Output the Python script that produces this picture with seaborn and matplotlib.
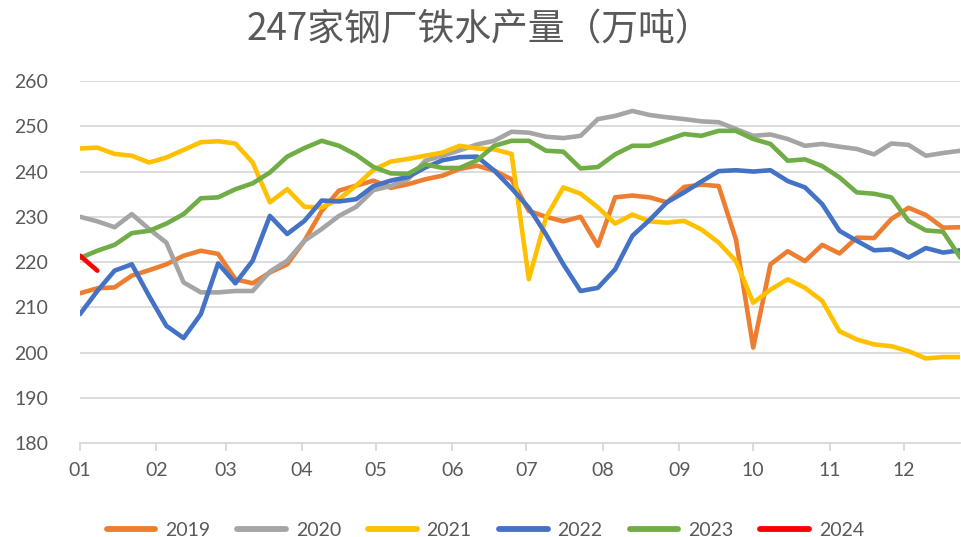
import numpy as np
import pandas as pd
import matplotlib
matplotlib.use("Agg")
import matplotlib.pyplot as plt
import seaborn as sns

# Weekly hot-metal output of 247 steel mills (10k tonnes), week index 0..51
y2019 = [213.1, 214.2, 214.4, 217.0, 218.2, 219.5, 221.4, 222.5, 221.8, 216.2,
         215.3, 217.7, 219.5, 224.7, 231.3, 235.8, 236.9, 238.0, 236.4, 237.2,
         238.3, 239.1, 240.6, 241.3, 240.2, 238.3, 231.3, 230.0, 229.0, 230.0,
         223.6, 234.3, 234.7, 234.3, 233.2, 236.6, 237.1, 236.8, 225.0, 201.1,
         219.5, 222.4, 220.2, 223.8, 221.9, 225.4, 225.3, 229.5, 232.0, 230.4,
         227.6, 227.7]
y2020 = [230.0, 229.0, 227.7, 230.6, 227.3, 224.3, 215.5, 213.3, 213.3, 213.6,
         213.6, 217.9, 220.3, 224.7, 227.3, 230.2, 232.2, 235.9, 236.8, 238.3,
         242.4, 243.5, 244.7, 246.0, 246.8, 248.8, 248.6, 247.7, 247.4, 247.9,
         251.6, 252.3, 253.4, 252.5, 252.0, 251.6, 251.1, 250.9, 249.4, 247.9,
         248.2, 247.2, 245.7, 246.1, 245.5, 245.0, 243.8, 246.2, 245.9, 243.5,
         244.1, 244.6]
y2021 = [245.1, 245.3, 243.9, 243.5, 242.0, 243.1, 244.8, 246.5, 246.7, 246.2,
         242.0, 233.2, 236.1, 232.2, 232.1, 233.9, 236.9, 240.4, 242.2, 242.8,
         243.5, 244.2, 245.7, 245.1, 244.9, 243.9, 216.2, 229.9, 236.5, 235.1,
         232.1, 228.5, 230.5, 229.0, 228.7, 229.1, 227.2, 224.3, 220.2, 211.0,
         213.9, 216.2, 214.3, 211.4, 204.7, 202.9, 201.8, 201.4, 200.3, 198.7,
         199.0, 199.0]
y2022 = [208.5, 213.6, 218.1, 219.5, 212.5, 205.9, 203.2, 208.5, 219.7, 215.3,
         220.3, 230.2, 226.2, 229.1, 233.6, 233.4, 233.9, 236.8, 238.0, 238.8,
         240.9, 242.5, 243.2, 243.3, 240.2, 236.3, 232.0, 226.1, 219.5, 213.6,
         214.3, 218.4, 225.8, 229.3, 233.2, 235.4, 237.8, 240.1, 240.3, 240.0,
         240.3, 237.9, 236.5, 232.8, 226.9, 224.7, 222.6, 222.8, 221.0, 223.1,
         222.1, 222.6]
y2023 = [220.9, 222.5, 223.8, 226.4, 226.9, 228.5, 230.6, 234.1, 234.3, 236.1,
         237.4, 239.8, 243.3, 245.2, 246.8, 245.7, 243.7, 241.0, 239.6, 239.5,
         241.6, 240.8, 240.8, 242.5, 245.7, 246.8, 246.8, 244.6, 244.4, 240.7,
         241.0, 243.8, 245.7, 245.7, 247.0, 248.3, 247.9, 249.0, 249.0, 247.2,
         246.1, 242.4, 242.7, 241.2, 238.7, 235.4, 235.1, 234.3, 229.1, 227.0,
         226.7, 221.0]
y2024 = [221.4, 218.1]

years = ["2019", "2020", "2021", "2022", "2023", "2024"]
series = [y2019, y2020, y2021, y2022, y2023, y2024]
colors = ["#ED7D31", "#A5A5A5", "#FFC000", "#4472C4", "#70AD47", "#FF0000"]

month_labels = ["01", "02", "03", "04", "05", "06",
                "07", "08", "09", "10", "11", "12"]
month_start_day = [0, 31, 59, 90, 120, 151, 181, 212, 243, 273, 304, 334]

frames = [pd.DataFrame({"week": np.arange(len(v)), "value": v, "year": yr})
          for yr, v in zip(years, series)]
df = pd.concat(frames, ignore_index=True)

sns.set_theme(style="white")
plt.rcParams["font.family"] = ["Lato", "Noto Sans CJK SC", "DejaVu Sans"]

fig = plt.figure(figsize=(9.61, 5.37), dpi=100)
ax = fig.add_axes([0.0833, 0.175, 0.916, 0.674])

sns.lineplot(data=df, x="week", y="value", hue="year", hue_order=years,
             palette=dict(zip(years, colors)), linewidth=3.3, ax=ax,
             legend=False, sort=False)
for ln in ax.get_lines():
    ln.set_solid_capstyle("round")
    ln.set_solid_joinstyle("round")

ax.set_xlim(0, 51)
ax.set_ylim(180, 260)
ax.set_yticks(np.arange(180, 261, 10))
ax.set_xticks(np.array(month_start_day) / 7.0)
ax.set_xticklabels(month_labels)
ax.set_xlabel("")
ax.set_ylabel("")

ax.grid(axis="y", color="#D9D9D9", linewidth=1.3)
ax.grid(axis="x", visible=False)
ax.set_axisbelow(True)
for side in ["left", "right", "top"]:
    ax.spines[side].set_visible(False)
ax.spines["bottom"].set_color("#D9D9D9")
ax.spines["bottom"].set_linewidth(1.3)
ax.tick_params(axis="x", which="major", bottom=True, length=6, width=1.3,
               color="#D9D9D9", labelsize=14, labelcolor="#595959", pad=8)
ax.tick_params(axis="y", left=False, labelsize=14, labelcolor="#595959", pad=17)

fig.text(0.499, 0.945, "247家钢厂铁水产量（万吨）", ha="center", va="center",
         fontsize=26.5, color="#595959",
         family=["Noto Sans CJK SC", "DejaVu Sans"])

handles = [plt.Line2D([], [], color=c, linewidth=4.2, solid_capstyle="round")
           for c in colors]
fig.legend(handles, years, loc="center", bbox_to_anchor=(0.505, 0.013),
           ncol=6, frameon=False, fontsize=14, labelcolor="#595959",
           handlelength=2.5, handletextpad=0.5, columnspacing=1.4)

fig.savefig("out.png", dpi=100)
